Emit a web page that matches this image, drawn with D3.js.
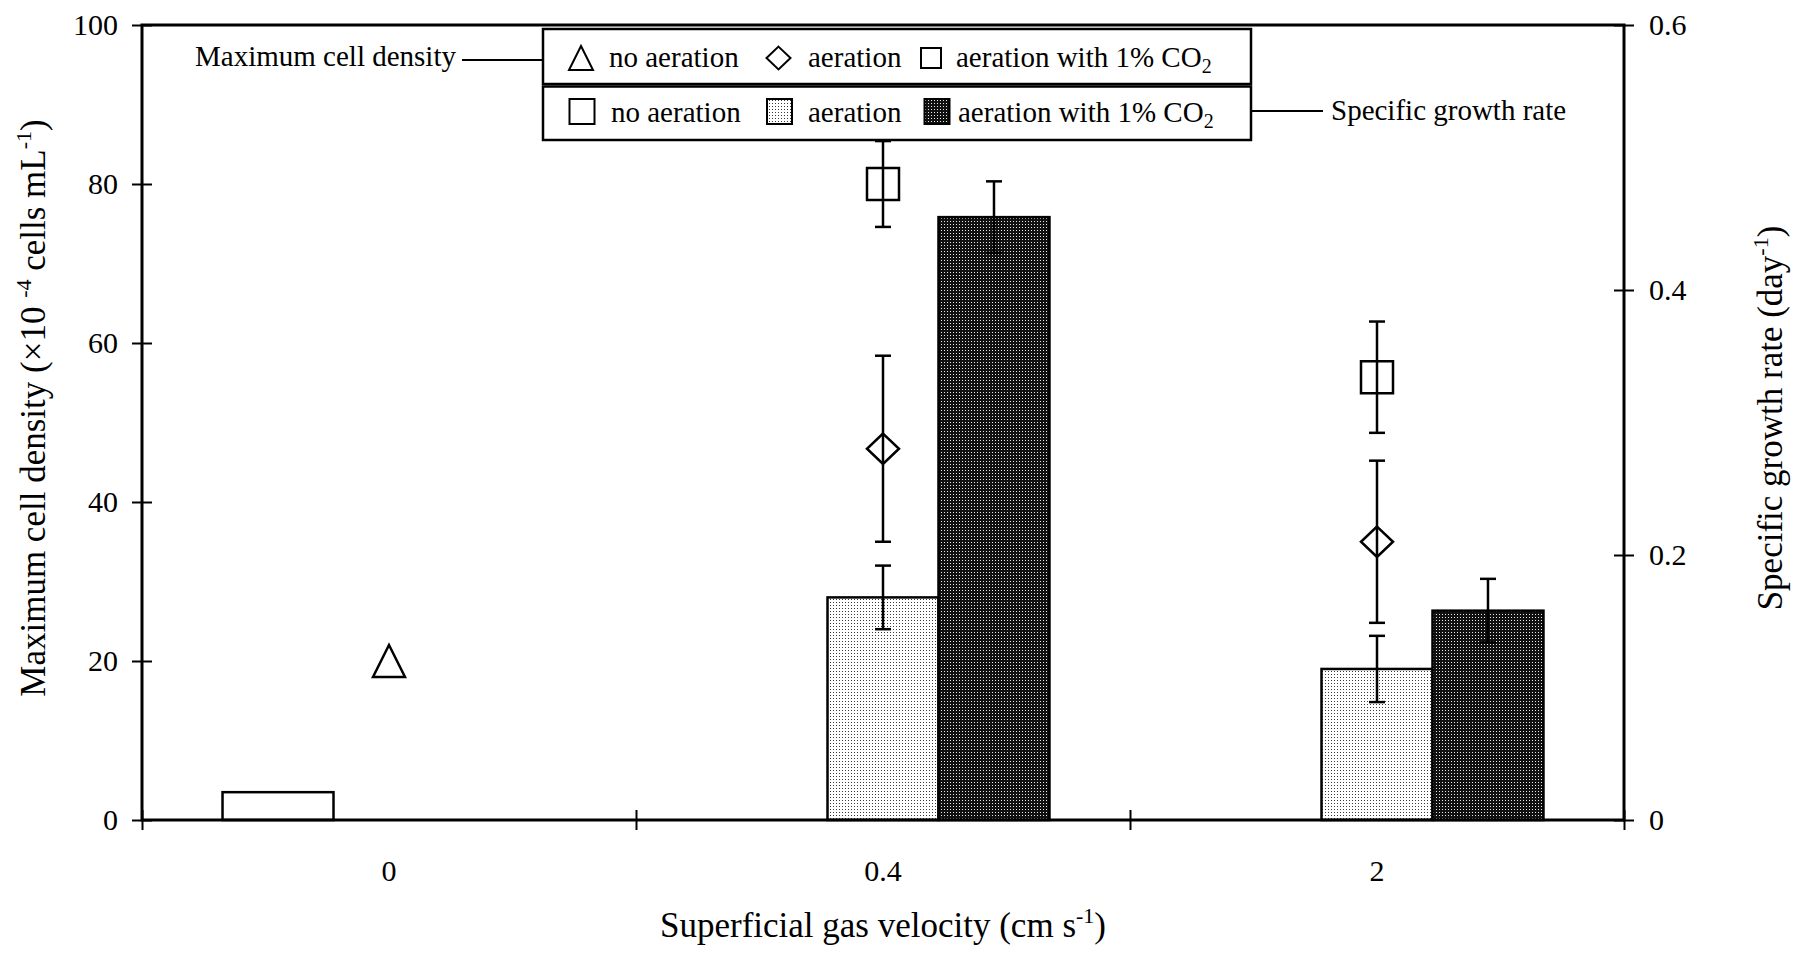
<!DOCTYPE html>
<html>
<head>
<meta charset="utf-8">
<script src="https://cdn.jsdelivr.net/npm/d3@7"></script>
<style>
body { margin: 0; background: #fff; }
svg text { font-family: "Liberation Serif", "Times New Roman", serif; fill: #000; }
</style>
</head>
<body>
<div id="chart"></div>
<script>
var categories = ["0", "0.4", "2"]
var seriesKeys = ["none", "aer", "co2"]

// specific growth rate (day-1) -> bars, right axis
var rateNoAeration = [0.021, null, null]
var rateAeration = [null, 0.168, 0.114]
var rateAerationErr = [null, 0.024, 0.025]
var rateCO2 = [null, 0.455, 0.158]
var rateCO2Err = [null, 0.027, 0.024]

// maximum cell density -> open markers, left axis
var densNoAeration = [20, null, null]
var densAeration = [null, 46.7, 35]
var densAerationErr = [null, 11.7, 10.2]
var densCO2 = [null, 80, 55.7]
var densCO2Err = [null, 5.4, 7]

var densTicks = [0, 20, 40, 60, 80, 100]
var rateTicks = [0, 0.2, 0.4, 0.6]

var chart = {
  width: 1793, height: 955,
  padding: { top: 25, right: 169, bottom: 135, left: 142 }
}
chart.innerWidth = chart.width - chart.padding.left - chart.padding.right
chart.innerHeight = chart.height - chart.padding.top - chart.padding.bottom

// flatten the arrays into rows for the marks
var bars = [], points = []
categories.forEach((c, i) => {
  if (rateNoAeration[i] != null) bars.push({ cat: c, key: "none", value: rateNoAeration[i], err: null })
  if (rateAeration[i] != null) bars.push({ cat: c, key: "aer", value: rateAeration[i], err: rateAerationErr[i] })
  if (rateCO2[i] != null) bars.push({ cat: c, key: "co2", value: rateCO2[i], err: rateCO2Err[i] })
  if (densNoAeration[i] != null) points.push({ cat: c, shape: "triangle", value: densNoAeration[i], err: null })
  if (densAeration[i] != null) points.push({ cat: c, shape: "diamond", value: densAeration[i], err: densAerationErr[i] })
  if (densCO2[i] != null) points.push({ cat: c, shape: "square", value: densCO2[i], err: densCO2Err[i] })
})

var svg = d3.select("#chart").append("svg")
    .attr("width", chart.width)
    .attr("height", chart.height)

var defs = svg.append("defs")
var light = defs.append("pattern").attr("id", "lightDots")
    .attr("patternUnits", "userSpaceOnUse").attr("width", 3).attr("height", 3)
light.append("rect").attr("width", 3).attr("height", 3).attr("fill", "#fff")
light.append("rect").attr("x", 1).attr("y", 1).attr("width", 1).attr("height", 1).attr("fill", "#3a3a3a")
var dark = defs.append("pattern").attr("id", "darkDots")
    .attr("patternUnits", "userSpaceOnUse").attr("width", 3).attr("height", 3)
dark.append("rect").attr("width", 3).attr("height", 3).attr("fill", "#111")
dark.append("rect").attr("x", 1).attr("y", 1).attr("width", 1).attr("height", 1).attr("fill", "#e8e8e8")

var fills = { none: "#fff", aer: "url(#lightDots)", co2: "url(#darkDots)" }

var g = svg.append("g")
    .attr("transform", "translate(" + chart.padding.left + "," + chart.padding.top + ")")

var x = d3.scaleBand().domain(categories).range([0, chart.innerWidth])
var bw = x.bandwidth()
var xSlot = d3.scaleBand().domain(seriesKeys).range([bw * 0.163, bw * 0.837])
var xEdge = d3.scaleLinear().domain([0, categories.length]).range([0, chart.innerWidth])
var yL = d3.scaleLinear().domain([0, 100]).range([chart.innerHeight, 0])
var yR = d3.scaleLinear().domain([0, 0.6]).range([chart.innerHeight, 0])

// axes
var axisL = g.append("g").attr("class", "axis y")
    .call(d3.axisLeft(yL).tickValues(densTicks).tickSize(10).tickPadding(14))
axisL.selectAll(".tick line").attr("x1", 10)

var axisR = g.append("g").attr("class", "axis y2")
    .attr("transform", "translate(" + chart.innerWidth + ",0)")
    .call(d3.axisRight(yR).tickValues(rateTicks).tickSize(10).tickPadding(15)
      .tickFormat(d => d === 0 ? "0" : d3.format(".1f")(d)))
axisR.selectAll(".tick line").attr("x1", -10)

var axisX = g.append("g").attr("class", "axis x")
    .attr("transform", "translate(0," + chart.innerHeight + ")")
    .call(d3.axisBottom(xEdge).tickValues(d3.range(categories.length + 1)).tickSize(10).tickFormat(""))
axisX.selectAll(".tick line").attr("y1", -10)

g.selectAll(".axis .domain").remove()
g.selectAll(".axis .tick line").attr("stroke", "#000").attr("stroke-width", 2)
g.selectAll(".axis .tick text").attr("font-size", 30)
    .attr("font-family", "Liberation Serif, Times New Roman, serif").attr("fill", "#000")

g.selectAll(".catlabel").data(categories).enter().append("text")
    .attr("class", "catlabel")
    .attr("x", d => x(d) + bw / 2)
    .attr("y", chart.innerHeight + 61)
    .attr("text-anchor", "middle")
    .attr("font-size", 30)
    .text(d => d)

// bars
g.selectAll(".bar").data(bars).enter().append("rect")
    .attr("class", "bar")
    .attr("x", d => x(d.cat) + xSlot(d.key))
    .attr("y", d => yR(d.value))
    .attr("width", xSlot.bandwidth())
    .attr("height", d => yR(0) - yR(d.value))
    .attr("fill", d => fills[d.key])
    .attr("stroke", "#000")
    .attr("stroke-width", 2.5)

function errorBars(sel, data, xf, yf) {
  var eb = sel.selectAll(null).data(data.filter(d => d.err != null)).enter().append("g")
      .attr("stroke", "#000").attr("stroke-width", 2.5)
  eb.append("line").attr("x1", xf).attr("x2", xf)
      .attr("y1", d => yf(d.value - d.err)).attr("y2", d => yf(d.value + d.err))
  eb.append("line").attr("x1", d => xf(d) - 8).attr("x2", d => xf(d) + 8)
      .attr("y1", d => yf(d.value + d.err)).attr("y2", d => yf(d.value + d.err))
  eb.append("line").attr("x1", d => xf(d) - 8).attr("x2", d => xf(d) + 8)
      .attr("y1", d => yf(d.value - d.err)).attr("y2", d => yf(d.value - d.err))
}
errorBars(g, bars, d => x(d.cat) + xSlot(d.key) + xSlot.bandwidth() / 2, yR)

// open markers, box-centred like the original plot
function shapePath(shape, cx, cy, s) {
  var p = d3.path()
  if (shape === "triangle") {
    p.moveTo(cx, cy - s); p.lineTo(cx + s, cy + s); p.lineTo(cx - s, cy + s); p.closePath()
  } else if (shape === "diamond") {
    p.moveTo(cx, cy - s * 0.95); p.lineTo(cx + s, cy); p.lineTo(cx, cy + s * 0.95); p.lineTo(cx - s, cy); p.closePath()
  } else {
    p.rect(cx - s, cy - s, 2 * s, 2 * s)
  }
  return p.toString()
}

errorBars(g, points, d => x(d.cat) + bw / 2, yL)
g.selectAll(".marker").data(points).enter().append("path")
    .attr("class", "marker")
    .attr("d", d => shapePath(d.shape, x(d.cat) + bw / 2, yL(d.value), 16))
    .attr("fill", "none")
    .attr("stroke", "#000")
    .attr("stroke-width", 2.5)

// frame
g.append("rect")
    .attr("width", chart.innerWidth).attr("height", chart.innerHeight)
    .attr("fill", "none").attr("stroke", "#000").attr("stroke-width", 3)

// axis titles
var bottomTitle = svg.append("text")
    .attr("x", chart.padding.left + chart.innerWidth / 2)
    .attr("y", 937)
    .attr("text-anchor", "middle")
    .attr("font-size", 35)
bottomTitle.append("tspan").text("Superficial gas velocity (cm s")
bottomTitle.append("tspan").attr("font-size", 22).attr("dy", -14).text("-1")
bottomTitle.append("tspan").attr("dy", 14).text(")")

var leftTitle = svg.append("text")
    .attr("transform", "translate(45,408) rotate(-90)")
    .attr("text-anchor", "middle")
    .attr("font-size", 35)
leftTitle.append("tspan").text("Maximum cell density (\u00d710 ")
leftTitle.append("tspan").attr("font-size", 22).attr("dy", -14).text("-4")
leftTitle.append("tspan").attr("dy", 14).text(" cells mL")
leftTitle.append("tspan").attr("font-size", 22).attr("dy", -14).text("-1")
leftTitle.append("tspan").attr("dy", 14).text(")")

var rightTitle = svg.append("text")
    .attr("transform", "translate(1782,418) rotate(-90)")
    .attr("text-anchor", "middle")
    .attr("font-size", 35)
rightTitle.append("tspan").text("Specific growth rate (day")
rightTitle.append("tspan").attr("font-size", 22).attr("dy", -14).text("-1")
rightTitle.append("tspan").attr("dy", 14).text(")")

// legend: two stacked boxes
var legend = svg.append("g").attr("class", "legend")
var legendLabels = ["no aeration", "aeration", "aeration with 1% CO"]
var legendSub = [null, null, "2"]

legend.append("rect").attr("x", 543).attr("y", 29).attr("width", 708).attr("height", 55)
    .attr("fill", "#fff").attr("stroke", "#000").attr("stroke-width", 2.5)
legend.append("rect").attr("x", 543).attr("y", 86.5).attr("width", 708).attr("height", 53.5)
    .attr("fill", "#fff").attr("stroke", "#000").attr("stroke-width", 2.5)

var row1 = { cy: 58, base: 67, mark: [581, 778.5, 931], text: [609, 808, 956], shapes: ["triangle", "diamond", "square"] }
var row2 = { cy: 111.5, base: 122, mark: [582, 779.5, 937], text: [611, 808, 958] }

row1.shapes.forEach((s, i) => {
  legend.append("path")
      .attr("d", shapePath(s, row1.mark[i], row1.cy, s === "square" ? 10 : 12))
      .attr("fill", "none").attr("stroke", "#000").attr("stroke-width", 2)
})
seriesKeys.forEach((k, i) => {
  legend.append("rect")
      .attr("x", row2.mark[i] - 12.5).attr("y", row2.cy - 12.5)
      .attr("width", 25).attr("height", 25)
      .attr("fill", fills[k]).attr("stroke", "#000").attr("stroke-width", 2)
})
;[row1, row2].forEach(row => {
  legendLabels.forEach((lab, i) => {
    var t = legend.append("text")
        .attr("x", row.text[i]).attr("y", row.base)
        .attr("font-size", 29)
    t.append("tspan").text(lab)
    if (legendSub[i]) t.append("tspan").attr("font-size", 20).attr("dy", 6).text(legendSub[i])
  })
})

// leader lines naming each legend row
legend.append("text").attr("x", 456).attr("y", 66).attr("text-anchor", "end")
    .attr("font-size", 29).text("Maximum cell density")
legend.append("line").attr("x1", 462).attr("x2", 543).attr("y1", 60).attr("y2", 60)
    .attr("stroke", "#000").attr("stroke-width", 2)
legend.append("text").attr("x", 1331).attr("y", 120)
    .attr("font-size", 29).text("Specific growth rate")
legend.append("line").attr("x1", 1251).attr("x2", 1323).attr("y1", 111).attr("y2", 111)
    .attr("stroke", "#000").attr("stroke-width", 2)
</script>
</body>
</html>
